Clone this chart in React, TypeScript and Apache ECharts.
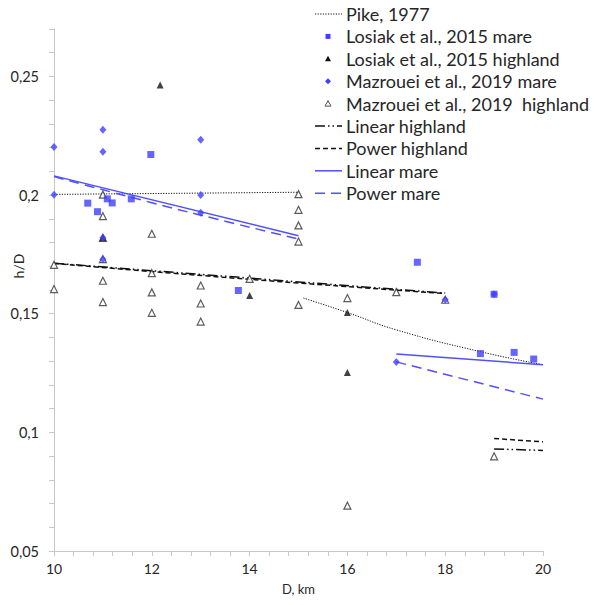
import React, { useEffect, useRef } from "react";
import * as echarts from "echarts";

// ---- Data ----
const losiakMareD = [10.69, 10.89, 11.09, 11.19, 11.58, 11.98, 13.77, 17.43, 18.72, 19.0, 19.41, 19.81];
const losiakMareHD = [0.1966, 0.193, 0.1984, 0.1967, 0.1984, 0.2171, 0.1598, 0.1717, 0.1332, 0.1582, 0.1337, 0.1309];

const losiakHighD = [12.17, 11.0, 14.0, 16.0, 16.0];
const losiakHighHD = [0.2464, 0.182, 0.1577, 0.1505, 0.1252];

const mazMareD = [10, 10, 11, 11, 11, 11, 13, 13, 13, 17, 18, 19];
const mazMareHD = [0.2203, 0.2001, 0.2275, 0.2183, 0.182, 0.173, 0.2233, 0.2, 0.1926, 0.1297, 0.1559, 0.1582];

const mazHighD = [10, 10, 11, 11, 11, 11, 11, 11, 12, 12, 12, 12, 13, 13, 13, 14, 15, 15, 15, 15, 15, 16, 16, 17, 18, 19];
const mazHighHD = [0.1706, 0.1604, 0.2002, 0.1911, 0.182, 0.173, 0.1639, 0.1549, 0.1837, 0.1671, 0.159, 0.1504, 0.1619, 0.1543, 0.1467, 0.1647, 0.2004, 0.1938, 0.1872, 0.1804, 0.1537, 0.1566, 0.0691, 0.1591, 0.1559, 0.0899];

const pikeSimpleD = [10, 15];
const pikeSimpleHD = [0.2003, 0.2012];
const pikeComplexD = [15.1, 16, 17, 18.7, 20];
const pikeComplexHD = [0.1566, 0.1505, 0.1432, 0.1341, 0.1285];

const linMare1D = [10, 15];
const linMare1HD = [0.2081, 0.1829];
const linMare2D = [17, 20];
const linMare2HD = [0.133, 0.1285];

const powMare1D = [10, 12, 13.5, 15];
const powMare1HD = [0.2078, 0.1968, 0.189, 0.1815];
const powMare2D = [17, 20];
const powMare2HD = [0.1297, 0.114];

const linHigh1D = [10, 18];
const linHigh1HD = [0.1713, 0.1587];
const linHigh2D = [19, 20];
const linHigh2HD = [0.093, 0.0924];

const powHigh1D = [10, 14, 18];
const powHigh1HD = [0.1712, 0.1645, 0.1585];
const powHigh2D = [19, 20];
const powHigh2HD = [0.0974, 0.096];

const legendNames = [
  "Pike, 1977",
  "Losiak et al., 2015 mare",
  "Losiak et al., 2015 highland",
  "Mazrouei et al., 2019 mare",
  "Mazrouei et al., 2019  highland",
  "Linear highland",
  "Power highland",
  "Linear mare",
  "Power mare",
];

const xTickMin = 10;
const xTickMax = 20;
const yTickMin = 0.05;
const yTickMax = 0.27;
const yTitle = "h/D";
const xTitle = "D, km";

// ---- Styles ----
const BLUE_M = "#3f3fff";
const BLUE_L = "#5050ff";
const BLACK = "#111111";
const AXIS = "#c8c8c8";
const TEXT = "#262626";
const FONT = "Lato, 'Liberation Sans', sans-serif";

const DASH_DOT = [10, 3, 1.5, 3, 1.5, 3];
const DOTTED = [1.2, 1.4];
const DASH_BLACK = [5, 3];
const DASH_BLUE = [10, 6];

const zip = (a: number[], b: number[]) => a.map((v, i) => [v, b[i]]);

function lineSeries(name: string, xs: number[], ys: number[], color: string, type: any, width: number, smooth = false) {
  return {
    name,
    type: "line",
    data: zip(xs, ys),
    showSymbol: false,
    symbol: "none",
    smooth,
    lineStyle: { color, width, type },
    z: 2,
  };
}

export default function App() {
  const ref = useRef<HTMLDivElement>(null);
  useEffect(() => {
    if (!ref.current) return;
    const chart = echarts.init(ref.current, undefined, { renderer: "svg" });

    // legend drawn with graphic elements
    const lx0 = 315, lx1 = 342, lmx = 328, ltx = 346, ly0 = 14, lstep = 22.4;
    const g: any[] = [];
    legendNames.forEach((n, i) => {
      const y = ly0 + i * lstep;
      g.push({
        type: "text",
        x: ltx,
        y,
        style: { text: n, fill: TEXT, font: `18px ${FONT}`, verticalAlign: "middle", align: "left" },
      });
      const lineIcon = (stroke: string, dash: any, w: number) => ({
        type: "line",
        shape: { x1: lx0, y1: y, x2: lx1, y2: y },
        style: { stroke, lineWidth: w, lineDash: dash },
      });
      if (i === 0) g.push(lineIcon(BLACK, DOTTED, 1));
      if (i === 1) g.push({ type: "rect", shape: { x: lmx - 2.5, y: y - 2.5, width: 5, height: 5 }, style: { fill: BLUE_M } });
      if (i === 2)
        g.push({ type: "polygon", shape: { points: [[lmx, y - 3], [lmx + 3, y + 2.5], [lmx - 3, y + 2.5]] }, style: { fill: BLACK } });
      if (i === 3)
        g.push({ type: "polygon", shape: { points: [[lmx, y - 3], [lmx + 3, y], [lmx, y + 3], [lmx - 3, y]] }, style: { fill: BLUE_M } });
      if (i === 4)
        g.push({
          type: "polygon",
          shape: { points: [[lmx, y - 3], [lmx + 3, y + 2.5], [lmx - 3, y + 2.5]] },
          style: { fill: "#fff", stroke: "#555", lineWidth: 1 },
        });
      if (i === 5) g.push(lineIcon(BLACK, DASH_DOT, 1.5));
      if (i === 6) g.push(lineIcon(BLACK, DASH_BLACK, 1.5));
      if (i === 7) g.push(lineIcon(BLUE_L, null, 1.5));
      if (i === 8) g.push(lineIcon(BLUE_L, DASH_BLUE, 1.5));
    });
    // y axis title
    g.push({
      type: "text",
      x: 18,
      y: 266,
      rotation: Math.PI / 2,
      style: { text: yTitle, fill: TEXT, font: `14px ${FONT}`, align: "center", verticalAlign: "middle" },
    });

    const option: any = {
      animation: false,
      backgroundColor: "#fff",
      grid: { left: 54, right: 55, top: 29, bottom: 54, containLabel: false, outerBoundsMode: "none" },
      xAxis: {
        type: "value",
        min: xTickMin,
        max: xTickMax,
        interval: 0.4,
        name: xTitle,
        nameLocation: "middle",
        nameGap: 31,
        nameMoveOverlap: false,
        nameTextStyle: { color: TEXT, fontSize: 13, fontFamily: FONT },
        axisLine: { show: true, lineStyle: { color: AXIS, width: 1 } },
        axisTick: { show: true, length: 5, lineStyle: { color: AXIS } },
        splitLine: { show: false },
        axisLabel: {
          color: TEXT,
          fontSize: 14,
          fontFamily: FONT,
          margin: 10,
          showMinLabel: true,
          showMaxLabel: true,
          formatter: (v: number) => {
            const k = Math.round(v * 10);
            return k % 20 === 0 ? String(k / 10) : "";
          },
        },
      },
      yAxis: {
        type: "value",
        min: yTickMin,
        max: yTickMax,
        interval: 0.01,
        axisLine: { show: true, lineStyle: { color: AXIS, width: 1 } },
        axisTick: { show: true, length: 5, lineStyle: { color: AXIS } },
        splitLine: { show: false },
        axisLabel: {
          color: TEXT,
          fontSize: 14.5,
          fontFamily: FONT,
          margin: 15,
          formatter: (v: number) => {
            const k = Math.round(v * 100);
            return k % 5 === 0 ? String(k / 100).replace(".", ",") : "";
          },
        },
      },
      series: [
        lineSeries(legendNames[0], pikeSimpleD, pikeSimpleHD, BLACK, DOTTED, 1),
        lineSeries(legendNames[0], pikeComplexD, pikeComplexHD, BLACK, DOTTED, 1, true),
        lineSeries(legendNames[5], linHigh1D, linHigh1HD, BLACK, DASH_DOT, 1.5),
        lineSeries(legendNames[5], linHigh2D, linHigh2HD, BLACK, DASH_DOT, 1.5),
        lineSeries(legendNames[6], powHigh1D, powHigh1HD, BLACK, DASH_BLACK, 1.5, true),
        lineSeries(legendNames[6], powHigh2D, powHigh2HD, BLACK, DASH_BLACK, 1.5),
        lineSeries(legendNames[7], linMare1D, linMare1HD, BLUE_L, "solid", 1.5),
        lineSeries(legendNames[7], linMare2D, linMare2HD, BLUE_L, "solid", 1.5),
        lineSeries(legendNames[8], powMare1D, powMare1HD, BLUE_L, DASH_BLUE, 1.5, true),
        lineSeries(legendNames[8], powMare2D, powMare2HD, BLUE_L, DASH_BLUE, 1.5),
        {
          name: legendNames[4],
          type: "scatter",
          data: zip(mazHighD, mazHighHD),
          symbol: "triangle",
          symbolSize: 7,
          itemStyle: { color: "#ffffff", borderColor: "#333", borderWidth: 1.2 },
          z: 3,
        },
        {
          name: legendNames[2],
          type: "scatter",
          data: zip(losiakHighD, losiakHighHD),
          symbol: "triangle",
          symbolSize: 7,
          itemStyle: { color: BLACK },
          z: 4,
        },
        {
          name: legendNames[1],
          type: "scatter",
          data: zip(losiakMareD, losiakMareHD),
          symbol: "rect",
          symbolSize: 7,
          itemStyle: { color: BLUE_M },
          z: 5,
        },
        {
          name: legendNames[3],
          type: "scatter",
          data: zip(mazMareD, mazMareHD),
          symbol: "diamond",
          symbolSize: [7, 8],
          itemStyle: { color: BLUE_M },
          z: 6,
        },
      ],
      graphic: g,
    };
    chart.setOption(option);
    return () => chart.dispose();
  }, []);
  return <div ref={ref} style={{ width: 598, height: 605, margin: -8 }} />;
}
